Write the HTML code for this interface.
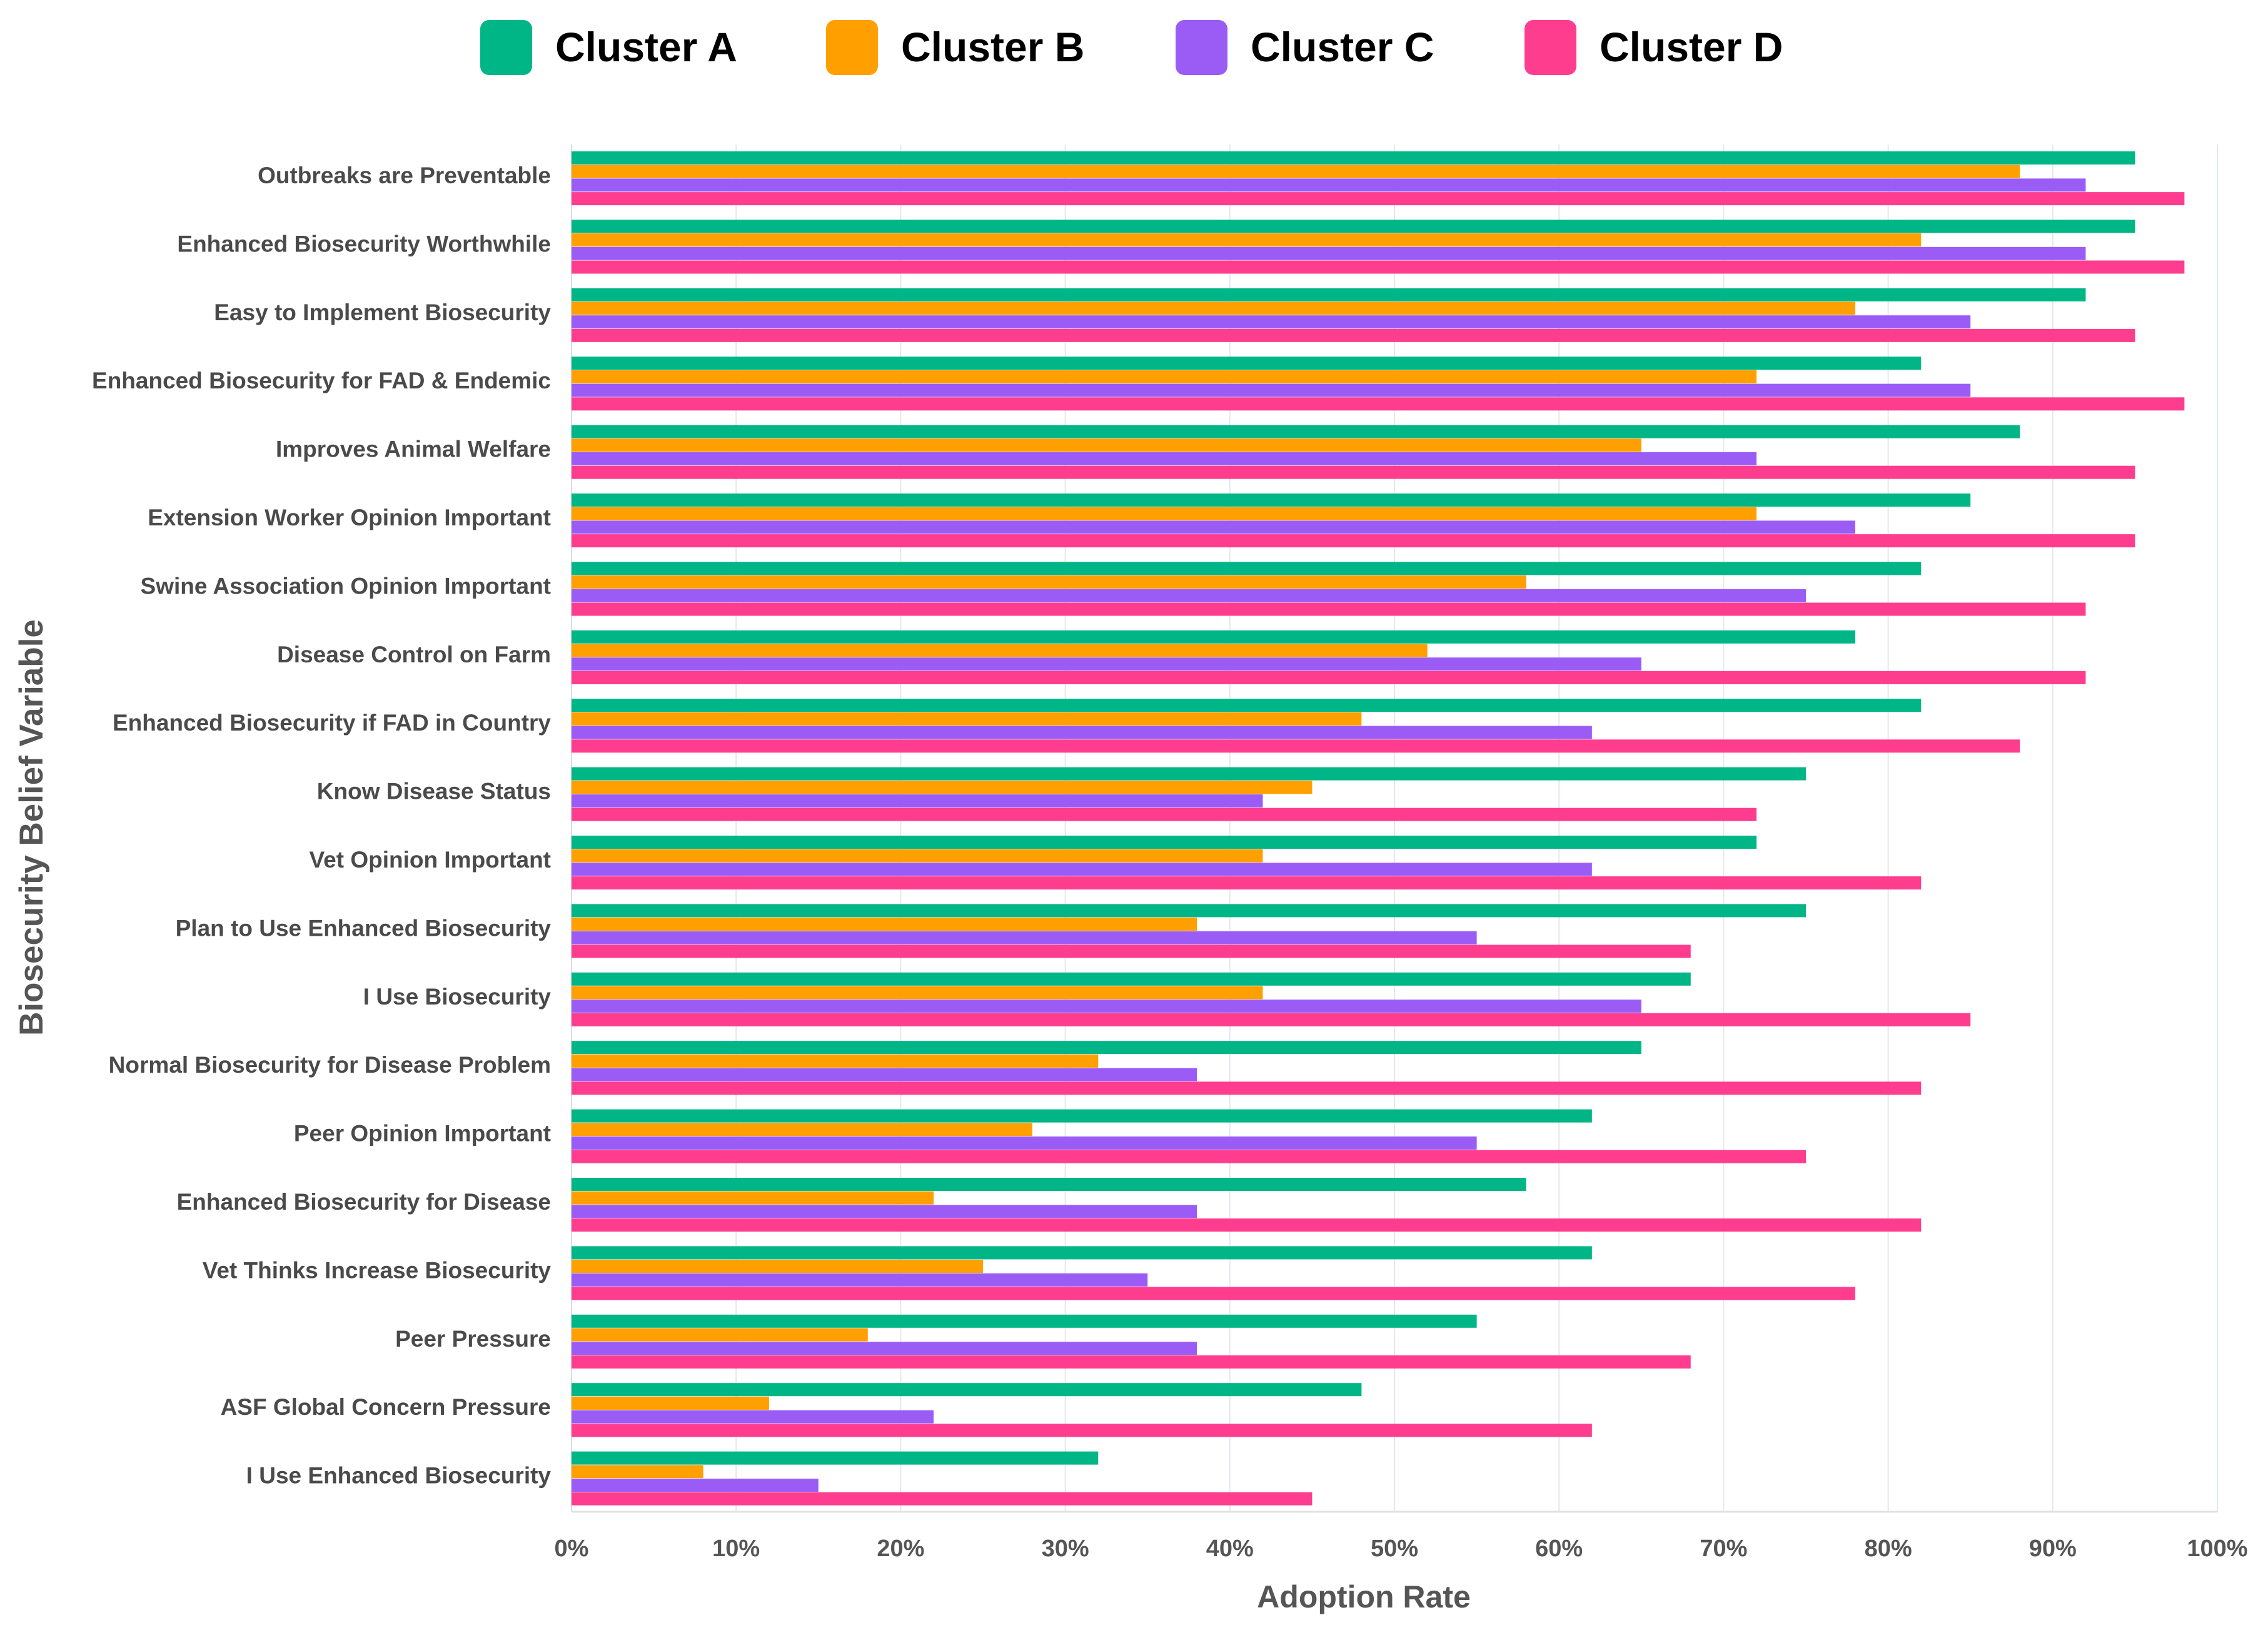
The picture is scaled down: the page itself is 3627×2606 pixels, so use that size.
<!DOCTYPE html>
<html><head><meta charset="utf-8"><style>
html,body{margin:0;padding:0;background:#fff;}
svg{display:block;font-family:"Liberation Sans",sans-serif;}
</style></head><body>
<svg id="chart" width="3627" height="2606" viewBox="0 0 3627 2606" xmlns="http://www.w3.org/2000/svg">
<g id="legend"></g>
<g id="grid"></g>
<g id="bars"></g>
<g id="labels"></g>
<g id="xticks"></g>
<text x="2181" y="2570" text-anchor="middle" font-size="50" font-weight="bold" fill="#555">Adoption Rate</text>
<text transform="translate(68,1323) rotate(-90)" text-anchor="middle" font-size="53" font-weight="bold" fill="#555">Biosecurity Belief Variable</text>
</svg>
<script>
const categories = ["Outbreaks are Preventable","Enhanced Biosecurity Worthwhile","Easy to Implement Biosecurity","Enhanced Biosecurity for FAD & Endemic","Improves Animal Welfare","Extension Worker Opinion Important","Swine Association Opinion Important","Disease Control on Farm","Enhanced Biosecurity if FAD in Country","Know Disease Status","Vet Opinion Important","Plan to Use Enhanced Biosecurity","I Use Biosecurity","Normal Biosecurity for Disease Problem","Peer Opinion Important","Enhanced Biosecurity for Disease","Vet Thinks Increase Biosecurity","Peer Pressure","ASF Global Concern Pressure","I Use Enhanced Biosecurity"];
const clusterA = [95,95,92,82,88,85,82,78,82,75,72,75,68,65,62,58,62,55,48,32];
const clusterB = [88,82,78,72,65,72,58,52,48,45,42,38,42,32,28,22,25,18,12,8];
const clusterC = [92,92,85,85,72,78,75,65,62,42,62,55,65,38,55,38,35,38,22,15];
const clusterD = [98,98,95,98,95,95,92,92,88,72,82,68,85,82,75,82,78,68,62,45];
const seriesNames = ["Cluster A","Cluster B","Cluster C","Cluster D"];
const xTicks = [0,10,20,30,40,50,60,70,80,90,100];

const NS="http://www.w3.org/2000/svg";
const colors=["#00b686","#ff9f00","#9b5cf6","#ff3d8e"];
const series=[clusterA,clusterB,clusterC,clusterD];
const x0=914,x1=3546,top0=242,pitch=109.4,barStep=21.7,barH=21,plotTop=231,plotBot=2417;
const xs=v=>x0+(x1-x0)*v/100;
function mk(tag,attrs,parent){const e=document.createElementNS(NS,tag);for(const k in attrs)e.setAttribute(k,attrs[k]);parent.appendChild(e);return e;}
const g=document.getElementById('grid'),b=document.getElementById('bars'),l=document.getElementById('labels'),xt=document.getElementById('xticks'),lg=document.getElementById('legend');
xTicks.forEach(t=>{
  const ln=mk('line',{x1:xs(t),x2:xs(t),y1:plotTop,y2:plotBot,stroke:t===0?'#d6dbe2':'#e3e8ef','stroke-width':2},g);
  
  
  const tx=mk('text',{x:xs(t),y:2488,'text-anchor':'middle','font-size':38,'font-weight':'bold',fill:'#555'},xt);
  tx.textContent=t+'%';
  
  
});
const base=mk('line',{x1:x0,x2:x1,y1:plotBot,y2:plotBot,stroke:'#e0e0e0','stroke-width':3},g);


categories.forEach((c,i)=>{
  const gy=top0+i*pitch;
  series.forEach((s,j)=>{
    const r=mk('rect',{x:x0,y:gy+j*barStep,width:xs(s[i])-x0,height:barH,fill:colors[j]},b);
    
    
  });
  const t=mk('text',{x:881,y:gy+51,'text-anchor':'end','font-size':37,'font-weight':'bold',fill:'#4a4a4a'},l);
  t.textContent=c;
  
  
});
const lx=[768,1321,1880,2438];
seriesNames.forEach((n,j)=>{
  const r=mk('rect',{x:lx[j],y:32,width:83,height:88,rx:14,fill:colors[j]},lg);
  
  
  const t=mk('text',{x:lx[j]+120,y:98,'font-size':66,'font-weight':'bold',fill:'#000'},lg);
  t.textContent=n;
  
  
});
</script>
</body></html>
